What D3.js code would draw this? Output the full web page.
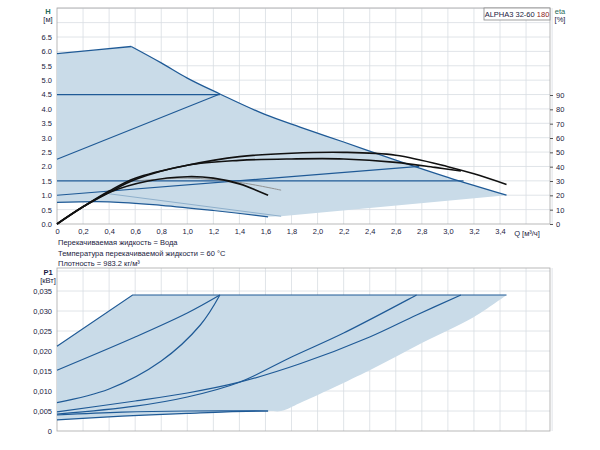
<!DOCTYPE html>
<html><head><meta charset="utf-8">
<script src="https://cdn.jsdelivr.net/npm/d3@7"></script>
<style>
body{margin:0;background:#fff}
text{font-family:"Liberation Sans",Arial,sans-serif;fill:#1a1a40}
</style></head>
<body><svg width="600" height="450"></svg>
<script>
// tick labels
const qTicks = d3.range(0, 3.41, 0.2)
const hTicks = d3.range(0, 6.51, 0.5)
const etaTicks = d3.range(0, 91, 10)
const pTicks = d3.range(0, 0.0351, 0.005)

// QH curves [Q, H]
const maxRise = [[0,5.92],[0.3,6.05],[0.57,6.17]]
const maxFall = [[0.57,6.17],[0.8,5.6],[1.0,5.07],[1.25,4.52],[1.6,3.8],[1.865,3.37],[2.2,2.85],[2.6,2.22],[3.0,1.62],[3.45,1.0]]
const fillLower = [[3.45,1.0],[1.72,0.27],[1.62,0.25],[1.2,0.47],[0.8,0.65],[0.4,0.77],[0,0.75]]
const blueLines = [
  [[0,4.5],[1.25,4.5]],
  [[0,2.25],[1.25,4.52]],
  [[0,1.5],[3.12,1.5]],
  [[0,1.0],[2.78,2.0]],
  [[0,0.75],[0.4,0.77],[0.8,0.65],[1.2,0.47],[1.62,0.25]]
]
const faintLines = [[[0.4,1.05],[1.72,0.27]]]
// efficiency curves [Q, eta %]
const etaCurves = [
  [[0,0],[0.2,12],[0.4,23],[0.6,32],[1.0,41],[1.4,47],[1.8,49.4],[2.2,50],[2.6,48],[3.0,40],[3.2,35],[3.45,27.6]],
  [[0,0],[0.2,12],[0.4,22],[0.6,31],[1.0,41],[1.4,44.4],[1.8,45.4],[2.2,45.4],[2.6,43],[2.9,39.5],[3.1,37]],
  [[0,0],[0.2,12],[0.4,22],[0.7,30],[1.0,33],[1.2,32],[1.4,28],[1.62,20]]
]
const etaFaint = [[[0.6,30],[1.0,32],[1.4,29],[1.72,23.6]]]

// P1 curves [Q, kW]
const pFillUpper = [[0,0.0212],[0.58,0.034],[3.45,0.034]]
const pFillLower = [[3.45,0.034],[3.2,0.0285],[2.8,0.022],[2.4,0.0152],[1.865,0.007],[1.72,0.005],[1.62,0.005],[1.0,0.0044],[0.5,0.0037],[0,0.0028]]
const pLines = [
  [[0,0.0212],[0.58,0.034],[3.45,0.034]],
  [[0,0.0152],[0.6,0.0235],[1.0,0.0295],[1.25,0.034]],
  [[0,0.0071],[0.4,0.0105],[0.8,0.0175],[1.1,0.0265],[1.25,0.034]],
  [[0,0.0042],[0.6,0.0062],[1.0,0.0085],[1.4,0.0122],[1.8,0.0185],[2.2,0.0245],[2.76,0.034]],
  [[0,0.0048],[0.6,0.0075],[1.0,0.0095],[1.4,0.0122],[1.865,0.0168],[2.4,0.0235],[2.76,0.029],[3.1,0.034]],
  [[0,0.0028],[0.5,0.0037],[1.0,0.0044],[1.3,0.0048],[1.62,0.005]],
  [[0,0.0040],[0.5,0.0047],[1.0,0.005],[1.62,0.005]]
]
const infoLines = ["Перекачиваемая жидкость = Вода", "Температура перекачиваемой жидкости = 60 °C", "Плотность = 983.2 кг/м³"]

const svg = d3.select("svg")
const x = d3.scaleLinear().domain([0, 3.4]).range([57, 500])
const xEnd = 550
const yH = d3.scaleLinear().domain([0, 6.5]).range([224, 37])
const yEta = d3.scaleLinear().domain([0, 90]).range([224, 95])
const yP = d3.scaleLinear().domain([0, 0.035]).range([431, 291])

const fillC = "#c9dbe8", blue = "#1f5a96", grid = "#d8dde2"

function gridPanel(top, bottom, yScale, yVals) {
  const g = svg.append("g")
  const xs = d3.range(0.2, 3.81, 0.2)
  g.selectAll(".vx").data(xs).enter().append("line")
    .attr("x1", d => x(d)).attr("x2", d => x(d)).attr("y1", top).attr("y2", bottom)
    .attr("stroke", grid).attr("stroke-width", 0.8)
  g.selectAll(".hy").data(yVals).enter().append("line")
    .attr("x1", 57).attr("x2", xEnd).attr("y1", d => yScale(d)).attr("y2", d => yScale(d))
    .attr("stroke", grid).attr("stroke-width", 0.8)
  g.append("rect").attr("x", 57).attr("y", top).attr("width", xEnd - 57).attr("height", bottom - top)
    .attr("fill", "none").attr("stroke", "#a8a8a8").attr("stroke-width", 0.8)
}

gridPanel(8, 224, yH, d3.range(0.5, 7.6, 0.5))
gridPanel(268, 431, yP, d3.range(0.005, 0.0401, 0.005))

const smoothH = d3.line().x(d => x(d[0])).y(d => yH(d[1])).curve(d3.curveMonotoneX)
const lineHlin = d3.line().x(d => x(d[0])).y(d => yH(d[1]))
const lineEta = d3.line().x(d => x(d[0])).y(d => yEta(d[1])).curve(d3.curveCatmullRom)
const lineP = d3.line().x(d => x(d[0])).y(d => yP(d[1])).curve(d3.curveCatmullRom)

// top fill
const topPoly = maxRise.concat(maxFall, fillLower).map(d => [x(d[0]), yH(d[1])])
svg.append("path").attr("d", "M" + topPoly.join("L") + "Z").attr("fill", fillC)

;[maxRise, maxFall].forEach(l => svg.append("path").attr("d", smoothH(l))
  .attr("fill", "none").attr("stroke", blue).attr("stroke-width", 1.3))
blueLines.forEach(l => svg.append("path").attr("d", d3.line().x(d => x(d[0])).y(d => yH(d[1])).curve(d3.curveCatmullRom)(l))
  .attr("fill", "none").attr("stroke", blue).attr("stroke-width", 1.2))
faintLines.forEach(l => svg.append("path").attr("d", lineHlin(l))
  .attr("fill", "none").attr("stroke", "#8fb0cc").attr("stroke-width", 1))
etaFaint.forEach(l => svg.append("path").attr("d", lineEta(l))
  .attr("fill", "none").attr("stroke", "#888").attr("stroke-width", 0.9))
etaCurves.forEach(l => svg.append("path").attr("d", lineEta(l))
  .attr("fill", "none").attr("stroke", "#111").attr("stroke-width", 1.6))

// bottom fill: straight upper edge, smooth lower edge
const upperPath = d3.line().x(d => x(d[0])).y(d => yP(d[1]))(pFillUpper)
const lowerPath = lineP(pFillLower).replace(/^M[^CL]*/, "")
svg.append("path").attr("d", upperPath + "L" + x(pFillLower[0][0]) + "," + yP(pFillLower[0][1]) + lowerPath + "Z").attr("fill", fillC)
pLines.forEach((l, i) => svg.append("path")
  .attr("d", i === 0 ? d3.line().x(d => x(d[0])).y(d => yP(d[1]))(l) : lineP(l))
  .attr("fill", "none").attr("stroke", blue).attr("stroke-width", 1.2))

// axes
const fs = 7.5
const axisX = svg.append("g").attr("transform", "translate(0,224)")
  .call(d3.axisBottom(x).tickValues(qTicks).tickSize(0).tickPadding(5).tickFormat(d => d === 0 ? "0" : d3.format(".1f")(d).replace(".", ",")))
axisX.select(".domain").remove()
axisX.selectAll("text").style("font-size", fs + "px")

const axisH = svg.append("g").attr("transform", "translate(57,0)")
  .call(d3.axisLeft(yH).tickValues(hTicks).tickSize(0).tickPadding(5).tickFormat(d3.format(".1f")))
axisH.select(".domain").remove()
axisH.selectAll("text").style("font-size", fs + "px")

const axisEta = svg.append("g").attr("transform", "translate(550,0)")
  .call(d3.axisRight(yEta).tickValues(etaTicks).tickSize(3).tickPadding(3).tickFormat(d3.format("d")))
axisEta.select(".domain").remove()
axisEta.selectAll("line").attr("stroke", "#555")
axisEta.selectAll("text").style("font-size", fs + "px")

const axisP = svg.append("g").attr("transform", "translate(57,0)")
  .call(d3.axisLeft(yP).tickValues(pTicks).tickSize(0).tickPadding(5).tickFormat(d => d === 0 ? "0" : d3.format(".3f")(d).replace(".", ",")))
axisP.select(".domain").remove()
axisP.selectAll("text").style("font-size", fs + "px")

// labels
const lab = (t, lx, ly, anchor = "middle", extra = {}) => {
  const e = svg.append("text").attr("x", lx).attr("y", ly).attr("text-anchor", anchor).style("font-size", fs + "px").text(t)
  Object.entries(extra).forEach(([k, v]) => e.style(k, v))
  return e
}
lab("H", 48, 14, "middle", {"font-weight": "bold", fill: "#1f6a5a"})
lab("[м]", 48, 22)
lab("eta", 560, 14, "middle", {fill: "#1f6a5a"})
lab("[%]", 560, 22)
lab("P1", 48, 275, "middle", {"font-weight": "bold"})
lab("[кВт]", 48, 283)
lab("Q [м³/ч]", 527, 236)
infoLines.forEach((t, i) => lab(t, 58, 245 + i * 10.5, "start"))

svg.append("rect").attr("x", 484).attr("y", 8).attr("width", 66).attr("height", 12)
  .attr("fill", "#fff").attr("stroke", "#888").attr("stroke-width", 0.8)
const title = svg.append("text").attr("x", 517).attr("y", 17).attr("text-anchor", "middle").style("font-size", "7.5px")
title.append("tspan").text("ALPHA3 32-60 ")
title.append("tspan").style("fill", "#8b1a1a").text("180")
</script></body></html>
